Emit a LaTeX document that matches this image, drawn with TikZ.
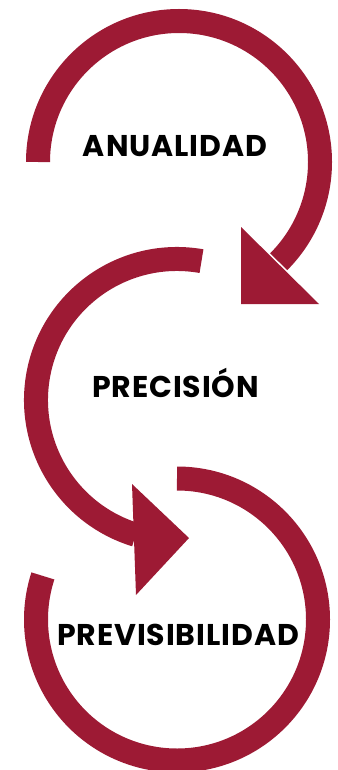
\documentclass[tikz,border=0pt]{standalone}
\usepackage{fontspec}
\setmainfont{Poppins}[LetterSpace=3.0]
\usepackage{tikz}
\usetikzlibrary{positioning}
\definecolor{ringred}{RGB}{157,26,52}

\begin{document}
\begin{tikzpicture}[x=1pt, y=1pt,
  ring/.style={draw=ringred, line width=24pt},
  head/.style={fill=ringred},
  lbl/.style={font=\fontsize{30}{36}\selectfont\bfseries, text=black, inner sep=0pt, anchor=base}]
\useasboundingbox (0,0) rectangle (337,-770);
\coordinate (c1) at (179,-162);
\coordinate (c2) at (177,-400);
\coordinate (c3) at (177,-619.5);
% first loop, ends in the arrow down-left
\draw[ring] ([shift={(180:141)}]c1) arc[start angle=180, end angle=-45, radius=141];
\fill[head] (241,-227) -- (241,-304) -- (319,-304) -- cycle;
% second loop, ends in the arrow to the right
\draw[ring] ([shift={(80:141)}]c2) arc[start angle=80, end angle=253, radius=141];
\fill[head] (132,-484) -- (189,-538) -- (136,-595) -- cycle;
% last loop
\draw[ring] ([shift={(90:141)}]c3) arc[start angle=90, end angle=-198, radius=141];
\node[lbl] (anual) at (175,-157) {ANUALIDAD};
\node[lbl] (precis) at (175.5,-397) {PRECISIÓN};
\node[lbl] (previs) at (178,-645) {PREVISIBILIDAD};
\end{tikzpicture}
\end{document}
